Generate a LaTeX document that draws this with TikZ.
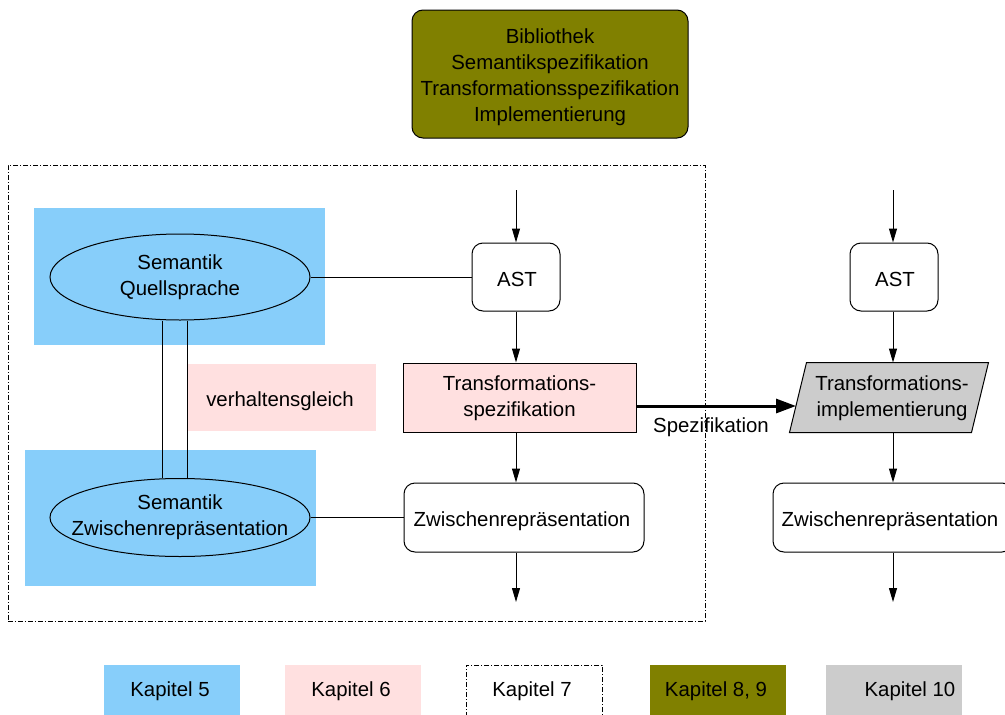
\documentclass[tikz,border=0pt]{standalone}
\usepackage{fontspec}
\setmainfont{Liberation Sans}
\usetikzlibrary{arrows.meta,shapes.geometric,calc}
\definecolor{chapblue}{RGB}{135,206,250}
\definecolor{chappink}{RGB}{255,224,224}
\definecolor{chapolive}{RGB}{128,128,0}
\definecolor{chapgray}{RGB}{204,204,204}
\begin{document}
\begin{tikzpicture}[x=1pt,y=-1pt,
  font=\fontsize{20.4}{26}\selectfont,
  line width=1pt,
  every node/.style={inner sep=0pt, align=center},
  roundbox/.style={draw, fill=white, rounded corners=11pt},
  area/.style={fill=#1, draw=none},
  semell/.style={draw, ellipse, fill=chapblue, minimum width=260pt},
  legbox/.style={minimum width=136pt, minimum height=51pt},
  dashdot/.style={dash pattern=on 5pt off 2pt on 1pt off 2pt, line width=0.8pt},
  arr/.style={-{Triangle[length=14pt,width=8pt]}},
  bigarr/.style={line width=3pt, -{Triangle[length=20pt,width=14pt]}},
  link/.style={line width=1pt}
]
\clip (0,0) rectangle (1005,715);

% library / implementation box on top
\node[roundbox, fill=chapolive, minimum width=276pt, minimum height=128pt] (lib) at (550,74) {};
\node (libt) at (550,77.5)
  {Bibliothek\\Semantikspezifikation\\Transformationsspezifikation\\Implementierung};

% frame of chapter 7
\node[draw, dashdot, minimum width=697pt, minimum height=456pt] (frame) at (356.5,393) {};

% semantics areas (chapter 5)
\node[area=chapblue, minimum width=291pt, minimum height=137pt] (bq) at (179.5,276.5) {};
\node[area=chapblue, minimum width=291pt, minimum height=136pt] (bz) at (170.5,518) {};
\node[semell, minimum height=86pt] (e1) at (180,277) {};
\node (e1t) at (180,277.5) {Semantik\\Quellsprache};
\node[semell, minimum height=78pt] (e2) at (180,517.5) {};
\node (e2t) at (180,517.5) {Semantik\\Zwischenrepräsentation};

% behavioural equivalence
\node[area=chappink, minimum width=188pt, minimum height=67pt] (vg) at (282,397.5) {};
\node (vgt) at (280,401) {verhaltensgleich};
\draw[link] ($(e1.south)+(-18,0)$) -- ($(e2.north)+(-18,0)$);
\draw[link] ($(e1.south)+(7,0)$) -- ($(e2.north)+(7,0)$);

% left column: specification
\coordinate (inL) at (516,190);
\coordinate (outL) at (516,602);
\node[roundbox, minimum width=88pt, minimum height=68pt] (ast) at (516,277) {};
\node (astt) at (517,279) {AST};
\node[draw, fill=chappink, minimum width=233pt, minimum height=69pt] (spec) at (519.5,397.5) {};
\node (spect) at (519.5,398) {Transformations-\\spezifikation};
\node[roundbox, minimum width=240pt, minimum height=69pt] (zl) at (524,517.5) {};
\node (zlt) at (522,521) {Zwischenrepräsentation};
\draw[arr] (inL) -- (ast.north);
\draw[arr] (ast.south) -- (ast.south |- spec.north);
\draw[arr] (ast.south |- spec.south) -- (ast.south |- zl.north);
\draw[arr] (ast.south |- zl.south) -- (outL);
\draw[link] (e1.east) -- (ast.west);
\draw[link] (e2.east) -- (zl.west);

% right column: implementation
\coordinate (inR) at (893,190);
\coordinate (outR) at (893,602);
\node[roundbox, minimum width=88pt, minimum height=68pt] (astR) at (894,277) {};
\node (astRt) at (895,279) {AST};
\node[minimum width=198pt, minimum height=69pt] (impl) at (889,397.5) {};
\draw[fill=chapgray] (impl.south west) -- ($(impl.north west)+(17,0)$) -- (impl.north east)
  -- ($(impl.south east)+(-17,0)$) -- cycle;
\node (implt) at (892,398) {Transformations-\\implementierung};
\node[roundbox, minimum width=240pt, minimum height=69pt] (zr) at (893,517.5) {};
\node (zrt) at (890,521) {Zwischenrepräsentation};
\draw[arr] (inR) -- (inR |- astR.north);
\draw[arr] (inR |- astR.south) -- (inR |- impl.north);
\draw[arr] (inR |- impl.south) -- (inR |- zr.north);
\draw[arr] (inR |- zr.south) -- (outR);

% specification feeds the implementation
\coordinate (tip) at (796,406);
\draw[bigarr] (spec.east |- tip) -- (tip);
\node (speclbl) at (711,427) {Spezifikation};

% legend
\node[legbox, fill=chapblue] (k5) at (171.5,690.5) {};
\node[legbox, fill=chappink] (k6) at (353,690.5) {};
\node[legbox, draw, dashdot] (k7) at (534,690.5) {};
\node[legbox, fill=chapolive] (k89) at (718,690.5) {};
\node[legbox, fill=chapgray] (k10) at (894,690.5) {};
\node (k5t) at (170,691.5) {Kapitel 5};
\node (k6t) at (351,691.5) {Kapitel 6};
\node (k7t) at (532,691.5) {Kapitel 7};
\node (k89t) at (716,691.5) {Kapitel 8, 9};
\node (k10t) at (910,691.5) {Kapitel 10};
\end{tikzpicture}
\end{document}
